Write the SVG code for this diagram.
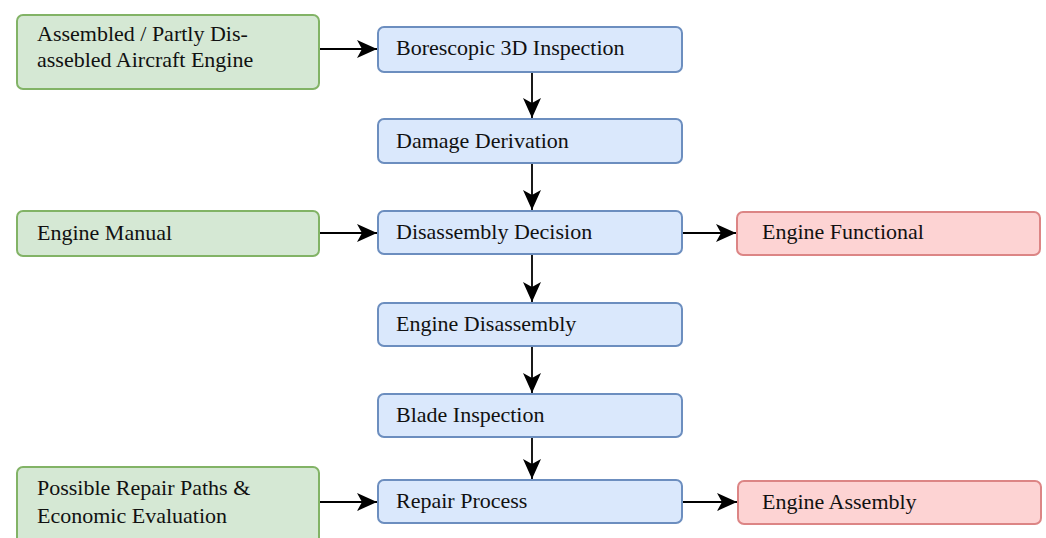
<svg xmlns="http://www.w3.org/2000/svg" width="1046" height="538" viewBox="0 0 1046 538">
<style>
.g rect{fill:#d5e8d4;stroke:#82b366;stroke-width:2}
.b rect{fill:#dae8fc;stroke:#6c8ebf;stroke-width:2}
.r rect{fill:#fdd3d3;stroke:#dc8585;stroke-width:2}
text{font-family:"Liberation Serif",serif;font-size:22px;fill:#111}
.c path{fill:none;stroke:#000;stroke-width:1.8;marker-end:url(#ah)}
</style>
<defs>
<marker id="ah" markerUnits="userSpaceOnUse" markerWidth="20" markerHeight="20" viewBox="0 0 20 20" refX="20" refY="9" orient="auto">
<path d="M0,0 L20,9 L0,18 L5,9 z" fill="#000"/>
</marker>
</defs>
<g id="n_assembled" class="g"><rect x="17" y="15" width="302" height="74" rx="6"/><text x="37" y="41">Assembled / Partly Dis-</text><text x="37" y="67">assebled Aircraft Engine</text></g>
<g id="n_manual" class="g"><rect x="17" y="211" width="302" height="45" rx="6"/><text x="37" y="240">Engine Manual</text></g>
<g id="n_repairpaths" class="g"><rect x="17" y="467" width="302" height="80" rx="6"/><text x="37" y="495">Possible Repair Paths &amp;</text><text x="37" y="523">Economic Evaluation</text></g>
<g id="n_boro" class="b"><rect x="378" y="27" width="304" height="45" rx="6"/><text x="396" y="55">Borescopic 3D Inspection</text></g>
<g id="n_damage" class="b"><rect x="378" y="119" width="304" height="44" rx="6"/><text x="396" y="148">Damage Derivation</text></g>
<g id="n_decision" class="b"><rect x="378" y="211" width="304" height="43" rx="6"/><text x="396" y="239">Disassembly Decision</text></g>
<g id="n_disassembly" class="b"><rect x="378" y="303" width="304" height="43" rx="6"/><text x="396" y="331">Engine Disassembly</text></g>
<g id="n_blade" class="b"><rect x="378" y="394" width="304" height="43" rx="6"/><text x="396" y="422">Blade Inspection</text></g>
<g id="n_repair" class="b"><rect x="378" y="480" width="304" height="43" rx="6"/><text x="396" y="508">Repair Process</text></g>
<g id="n_functional" class="r"><rect x="737" y="212" width="303" height="43" rx="6"/><text x="762" y="239">Engine Functional</text></g>
<g id="n_assembly" class="r"><rect x="738" y="481" width="303" height="43" rx="6"/><text x="762" y="509">Engine Assembly</text></g>
<g id="connectors" class="c">
<path d="M320,49 H377"/>
<path d="M320,233 H377"/>
<path d="M320,502 H377"/>
<path d="M683,233 H736"/>
<path d="M683,502 H737"/>
<path d="M532,73 V118"/>
<path d="M532,164 V210"/>
<path d="M532,255 V302"/>
<path d="M532,347 V393"/>
<path d="M532,438 V479"/>
</g>
</svg>
